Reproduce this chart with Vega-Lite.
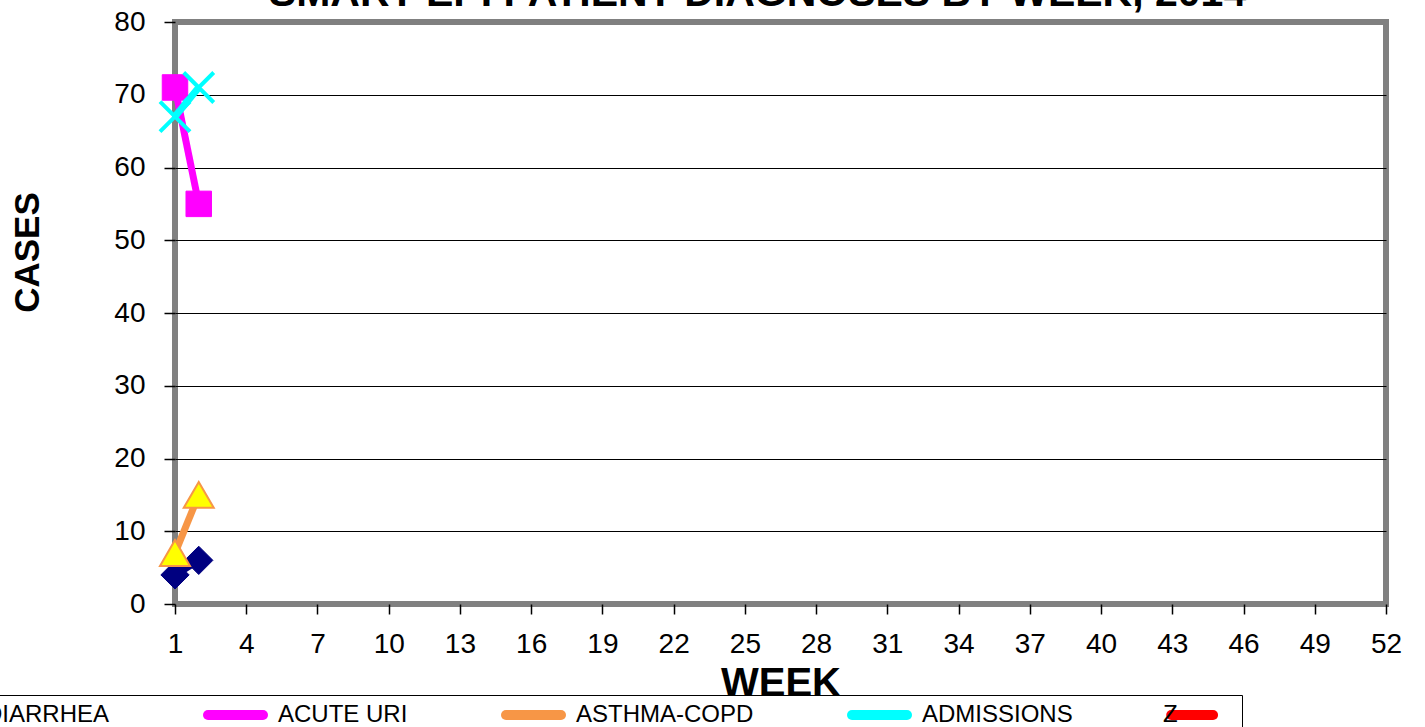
{
  "$schema": "https://vega.github.io/schema/vega-lite/v6.json",
  "width": 1211,
  "height": 582,
  "autosize": {"type": "none"},
  "padding": {"left": 175, "top": 22, "right": 39, "bottom": 123},
  "background": "white",
  "title": {"text": "SMART EPI PATIENT DIAGNOSES BY WEEK, 2014", "fontSize": 41, "font": "Liberation Sans", "fontWeight": "bold", "color": "black", "anchor": "middle", "offset": -7, "dx": -23},
  "config": {"view": {"stroke": "#808080", "strokeWidth": 6}, "font": "Liberation Sans"},
  "data": {"values": [
    {"week": 1, "series": "DIARRHEA", "cases": 4},
    {"week": 2, "series": "DIARRHEA", "cases": 6},
    {"week": 1, "series": "ACUTE URI", "cases": 71},
    {"week": 2, "series": "ACUTE URI", "cases": 55},
    {"week": 1, "series": "ASTHMA-COPD", "cases": 7},
    {"week": 2, "series": "ASTHMA-COPD", "cases": 15},
    {"week": 1, "series": "ADMISSIONS", "cases": 67},
    {"week": 2, "series": "ADMISSIONS", "cases": 71}
  ]},
  "encoding": {
    "x": {"field": "week", "type": "quantitative", "scale": {"domain": [1, 52], "nice": false, "zero": false},
      "axis": {"values": [1,4,7,10,13,16,19,22,25,28,31,34,37,40,43,46,49,52], "domain": false, "tickColor": "black", "tickSize": 10, "tickWidth": 1.5, "grid": false, "labelFontSize": 28, "labelColor": "black", "labelPadding": 16, "labelFlush": false, "labelOverlap": false, "title": "WEEK", "titleFontSize": 40, "titleFontWeight": "bold", "titleColor": "black", "titlePadding": 5}},
    "y": {"field": "cases", "type": "quantitative", "scale": {"domain": [0, 80], "nice": false},
      "axis": {"values": [0,10,20,30,40,50,60,70,80], "domain": false, "tickColor": "black", "tickSize": 11, "tickWidth": 1.5, "grid": true, "gridColor": "black", "gridWidth": 1, "gridOpacity": {"condition": {"test": "datum.value == 0 || datum.value == 80", "value": 0}, "value": 1}, "labelFontSize": 28, "labelColor": "black", "labelPadding": 19, "title": "CASES", "titleFontSize": 35, "titleFontWeight": "bold", "titleColor": "black", "titlePadding": 68, "titleY": 230}}
  },
  "layer": [
    {
      "mark": {"type": "line", "strokeWidth": 7},
      "encoding": {
        "color": {"field": "series", "type": "nominal",
          "scale": {"domain": ["DIARRHEA", "ACUTE URI", "ASTHMA-COPD", "ADMISSIONS", " "], "range": ["#000080", "#FF00FF", "#F79646", "#00FFFF", "red"]},
          "legend": {"title": " ", "titleOrient": "left", "titlePadding": 75, "titleFontSize": 2, "orient": "none", "legendX": -350, "legendY": 673, "direction": "horizontal", "columns": 5, "gridAlign": "each", "columnPadding": 78, "padding": 8, "strokeColor": "black", "fillColor": "white", "symbolType": "M-1,0H10", "symbolSize": 100, "symbolStrokeWidth": 10, "labelFont": "Liberation Sans", "labelFontSize": 24, "labelColor": "black", "labelOffset": 53, "labelLimit": 900, "labelExpr": "datum.value == ' ' ? 'Z' : datum.label", "encode": {"symbols": {"update": {"strokeCap": {"value": "round"}, "size": {"signal": "datum.value == ' ' ? 58 : 100"}}}, "labels": {"update": {"x": {"signal": "datum.value == ' ' ? 0 : datum.offset + 53"}}}}}}
      }
    },
    {
      "transform": [{"filter": "datum.series == 'DIARRHEA'"}],
      "mark": {"type": "point", "shape": "diamond", "filled": true, "fill": "#000080", "stroke": "#000080", "strokeWidth": 1, "size": 800, "opacity": 1}
    },
    {
      "transform": [{"filter": "datum.series == 'ACUTE URI'"}],
      "mark": {"type": "point", "shape": "square", "filled": true, "fill": "#FF00FF", "stroke": "#FF00FF", "strokeWidth": 1, "size": 650, "opacity": 1}
    },
    {
      "transform": [{"filter": "datum.series == 'ASTHMA-COPD'"}],
      "mark": {"type": "point", "shape": "triangle-up", "filled": true, "fill": "#FFFF00", "stroke": "#F79646", "strokeWidth": 2, "size": 900, "opacity": 1}
    },
    {
      "transform": [{"filter": "datum.series == 'ADMISSIONS'"}],
      "mark": {"type": "point", "shape": "M-1,-1L1,1M1,-1L-1,1", "filled": false, "stroke": "#00FFFF", "strokeWidth": 4, "size": 900, "opacity": 1}
    }
  ]
}
